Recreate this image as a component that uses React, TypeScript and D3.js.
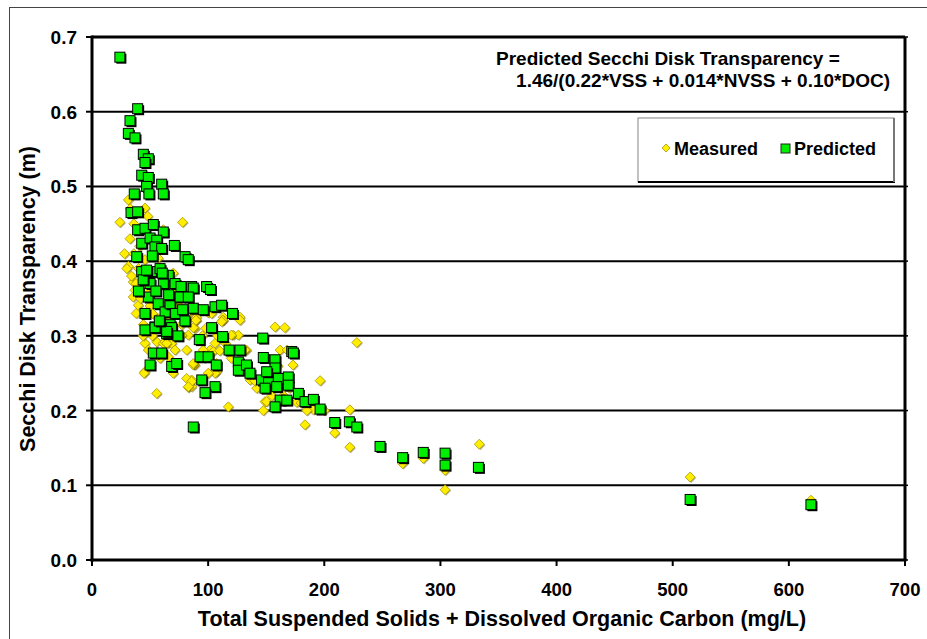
import React from "react";
import * as d3 from "d3";

const xTicks = [0, 100, 200, 300, 400, 500, 600, 700];
const yTicks = [0, 0.1, 0.2, 0.3, 0.4, 0.5, 0.6, 0.7];

const measured: [number, number][] = [
  [31.3, 0.482], [45.6, 0.471], [24, 0.452], [78, 0.452], [32.7, 0.43], [61.4, 0.442], [31.3, 0.393], [35.5, 0.372],
  [37, 0.361], [35.5, 0.352], [39.9, 0.341], [44.2, 0.33], [70, 0.384], [90, 0.325], [100, 0.331], [113, 0.325],
  [127.4, 0.325], [61.4, 0.375], [73, 0.361], [57, 0.404], [45.6, 0.402], [40, 0.39], [41, 0.42], [36, 0.45],
  [48, 0.46], [33, 0.47], [44.2, 0.315], [45.6, 0.29], [48.5, 0.281], [55.7, 0.292], [61.4, 0.29], [65.7, 0.29],
  [68.6, 0.29], [71.5, 0.281], [65.7, 0.272], [45.6, 0.252], [70, 0.25], [55.7, 0.223], [81.5, 0.281], [88.7, 0.261],
  [85.8, 0.241], [82.9, 0.231], [88.7, 0.31], [103, 0.33], [113, 0.321], [127.4, 0.321], [121.6, 0.301], [126, 0.301],
  [101.6, 0.281], [105.9, 0.29], [107.3, 0.252], [117.4, 0.205], [133, 0.281], [147.5, 0.2], [149, 0.212], [157.6, 0.312],
  [136, 0.241], [81.5, 0.321], [90, 0.321], [57, 0.323], [61.4, 0.319], [62.9, 0.292], [58.6, 0.27], [77.2, 0.315],
  [82.9, 0.301], [81.5, 0.243], [85.8, 0.232], [87.2, 0.311], [120, 0.301], [166, 0.311], [162, 0.281], [168, 0.281],
  [95.8, 0.281], [89.5, 0.321], [112.5, 0.321], [87.2, 0.261], [105.9, 0.25], [85.8, 0.239], [173, 0.261], [183.4, 0.181],
  [228, 0.291], [196.4, 0.24], [176.3, 0.211], [190.6, 0.201], [222, 0.201], [209, 0.17], [222, 0.151], [267.5, 0.129],
  [285.2, 0.136], [304, 0.12], [304, 0.094], [333.5, 0.155], [515, 0.111], [619, 0.08], [44.8, 0.25], [83, 0.232],
  [64.3, 0.29], [87.2, 0.263], [107.3, 0.263], [104.4, 0.279], [100.1, 0.25], [131.7, 0.281], [141.8, 0.23], [150.4, 0.212],
  [111.6, 0.319], [77.2, 0.301], [30, 0.39], [34, 0.38], [38, 0.37], [42, 0.35], [46, 0.36], [50, 0.34],
  [52, 0.33], [38, 0.33], [44, 0.3], [48, 0.31], [52, 0.3], [58, 0.31], [66, 0.32], [68, 0.34],
  [75, 0.34], [78, 0.36], [83, 0.33], [86, 0.34], [95, 0.3], [98, 0.31], [108, 0.3], [110, 0.28],
  [115, 0.29], [120, 0.27], [123, 0.28], [130, 0.26], [140, 0.24], [155, 0.22], [160, 0.26], [165, 0.22],
  [172, 0.28], [170, 0.23], [180, 0.21], [185, 0.2], [160, 0.21], [200, 0.2], [28, 0.41], [36, 0.41],
];

const predicted: [number, number][] = [
  [24, 0.673], [39.3, 0.604], [32.7, 0.588], [31.3, 0.571], [37, 0.565], [44.2, 0.543], [48.5, 0.537], [45.6, 0.532],
  [42.8, 0.515], [48.5, 0.512], [60, 0.503], [61.4, 0.49], [47, 0.5], [36.4, 0.49], [49, 0.49], [33.6, 0.465],
  [39.3, 0.466], [39.3, 0.442], [45.6, 0.444], [52.8, 0.449], [61.4, 0.439], [42.8, 0.424], [50, 0.431], [55.7, 0.428],
  [54.2, 0.419], [60, 0.417], [70.9, 0.421], [80.1, 0.406], [82.9, 0.402], [38.5, 0.406], [51.9, 0.407], [42.8, 0.386],
  [51.3, 0.386], [58.6, 0.39], [65.7, 0.381], [50, 0.37], [61.4, 0.37], [71.5, 0.37], [76.6, 0.366], [85.8, 0.366],
  [87.2, 0.364], [98.7, 0.366], [102, 0.362], [105.9, 0.339], [111.6, 0.341], [121, 0.33], [87.2, 0.337], [95.8, 0.335],
  [103, 0.311], [112.5, 0.299], [92.4, 0.295], [118, 0.281], [127.4, 0.281], [147, 0.297], [48.5, 0.352], [57, 0.343],
  [45.6, 0.33], [62.9, 0.332], [67.2, 0.343], [75.8, 0.352], [82.9, 0.352], [45.6, 0.308], [54.2, 0.312], [67.2, 0.315],
  [64.3, 0.303], [52.8, 0.277], [60, 0.277], [50, 0.261], [68.6, 0.259], [72.9, 0.263], [93, 0.272], [100, 0.272],
  [107, 0.261], [94.5, 0.241], [105.9, 0.232], [97.3, 0.224], [126, 0.265], [126, 0.254], [133, 0.261], [136, 0.25],
  [147.5, 0.271], [157.6, 0.268], [157.6, 0.257], [146, 0.241], [152, 0.241], [149, 0.23], [160.4, 0.243], [169, 0.245],
  [169, 0.234], [159, 0.232], [162, 0.214], [157.6, 0.205], [167.7, 0.214], [177.7, 0.223], [183.4, 0.212], [172, 0.279],
  [87.2, 0.178], [173.4, 0.277], [190.6, 0.215], [196.4, 0.202], [209, 0.184], [221.6, 0.185], [228, 0.178], [248, 0.152],
  [267.5, 0.137], [285.2, 0.144], [304, 0.143], [304, 0.127], [332.7, 0.124], [515, 0.081], [619, 0.074], [54.3, 0.311],
  [68.6, 0.311], [64.3, 0.306], [150.4, 0.252], [40, 0.36], [44, 0.375], [55, 0.36], [66, 0.355], [72, 0.33],
  [78, 0.335], [58, 0.32], [74, 0.3], [80, 0.32], [47, 0.388], [60.5, 0.384],
];

const FONT = "'Liberation Sans', Arial, sans-serif";

export default function App() {
  const W = 927, H = 639;
  const x = d3.scaleLinear().domain([0, 700]).range([92, 905]);
  const y = d3.scaleLinear().domain([0, 0.7]).range([560, 37]);
  const sq = 10;
  const dm = 5;
  const diamond = (cx: number, cy: number, r: number) =>
    `M${cx},${cy - r}L${cx + r},${cy}L${cx},${cy + r}L${cx - r},${cy}Z`;

  return (
    <div style={{ position: "fixed", left: 0, top: 0, width: W, height: H, background: "#fff" }}>
      <svg width={W} height={H} style={{ display: "block" }} fontFamily={FONT}>
        <rect x={0} y={0} width={W} height={H} fill="#fff" />
        <rect x={9.5} y={7.5} width={W + 10} height={H + 10} fill="none" stroke="#444" strokeWidth={1} />

        {/* gridlines */}
        {yTicks.filter((t) => t > 0 && t < 0.7).map((t) => (
          <line key={"g" + t} x1={x(0)} x2={x(700)} y1={y(t)} y2={y(t)} stroke="#000" strokeWidth={2} />
        ))}

        {/* frame */}
        <line x1={x(0)} x2={x(700)} y1={y(0.7)} y2={y(0.7)} stroke="#000" strokeWidth={3} />
        <line x1={x(700)} x2={x(700)} y1={y(0.7)} y2={y(0)} stroke="#000" strokeWidth={3} />
        <line x1={x(0)} x2={x(0)} y1={y(0.7) - 1.5} y2={y(0) + 1.5} stroke="#000" strokeWidth={3} />
        <line x1={x(0) - 1.5} x2={x(700) + 1.5} y1={y(0)} y2={y(0)} stroke="#000" strokeWidth={3} />

        {/* ticks */}
        {yTicks.map((t) => (
          <g key={"yt" + t}>
            <line x1={x(0) - 6} x2={x(0)} y1={y(t)} y2={y(t)} stroke="#000" strokeWidth={2} />
            <line x1={x(700)} x2={x(700) + 3} y1={y(t)} y2={y(t)} stroke="#000" strokeWidth={1.5} />
            <text x={77} y={y(t) + 7} textAnchor="end" fontSize={19} fontWeight="bold" fill="#000">
              {t.toFixed(1)}
            </text>
          </g>
        ))}
        {xTicks.map((t) => (
          <g key={"xt" + t}>
            <line x1={x(t)} x2={x(t)} y1={y(0)} y2={y(0) + 6} stroke="#000" strokeWidth={2} />
            <text x={x(t)} y={596} textAnchor="middle" fontSize={18.5} fontWeight="bold" fill="#000">
              {t}
            </text>
          </g>
        ))}

        {/* axis titles */}
        <text x={502} y={626} textAnchor="middle" fontSize={21.5} fontWeight="bold" fill="#000">
          Total Suspended Solids + Dissolved Organic Carbon (mg/L)
        </text>
        <text
          transform={`translate(35,299) rotate(-90)`}
          textAnchor="middle"
          fontSize={21.5}
          fontWeight="bold"
          fill="#000"
        >
          Secchi Disk Transparency (m)
        </text>

        {/* equation */}
        <text x={496} y={65} fontSize={19} fontWeight="bold" fill="#000">
          Predicted Secchi Disk Transparency =
        </text>
        <text x={890} y={87} textAnchor="end" fontSize={19} fontWeight="bold" fill="#000">
          1.46/(0.22*VSS + 0.014*NVSS + 0.10*DOC)
        </text>

        {/* measured */}
        <g>
          {measured.map(([a, b], i) => (
            <g key={"m" + i}>
              <path d={diamond(x(a) + 1, y(b) + 1, dm)} fill="rgba(90,80,0,0.45)" />
              <path d={diamond(x(a), y(b), dm)} fill="#ffee00" stroke="#a89600" strokeWidth={0.8} />
            </g>
          ))}
        </g>

        {/* predicted */}
        <g>
          {predicted.map(([a, b], i) => (
            <g key={"p" + i}>
              <rect x={x(a) - sq / 2 + 1.5} y={y(b) - sq / 2 + 1.5} width={sq} height={sq} fill="#000" />
              <rect
                x={x(a) - sq / 2}
                y={y(b) - sq / 2}
                width={sq}
                height={sq}
                fill="#00ee00"
                stroke="#000"
                strokeWidth={1}
              />
            </g>
          ))}
        </g>

        {/* legend */}
        <rect x={638} y={118} width={256} height={64} fill="#fff" stroke="#999" strokeWidth={1.2} />
        <line x1={638} x2={895} y1={182} y2={182} stroke="#000" strokeWidth={2} />
        <line x1={894} x2={894} y1={118} y2={182} stroke="#777" strokeWidth={2} />
        <path d={diamond(666, 148, 4)} fill="#ffee00" stroke="#a89600" strokeWidth={0.8} />
        <text x={674} y={155} fontSize={18} fontWeight="bold" fill="#000">Measured</text>
        <rect x={781} y={144} width={9} height={9} fill="#00ee00" stroke="#222" strokeWidth={1} />
        <text x={794} y={155} fontSize={18} fontWeight="bold" fill="#000">Predicted</text>
      </svg>
    </div>
  );
}
